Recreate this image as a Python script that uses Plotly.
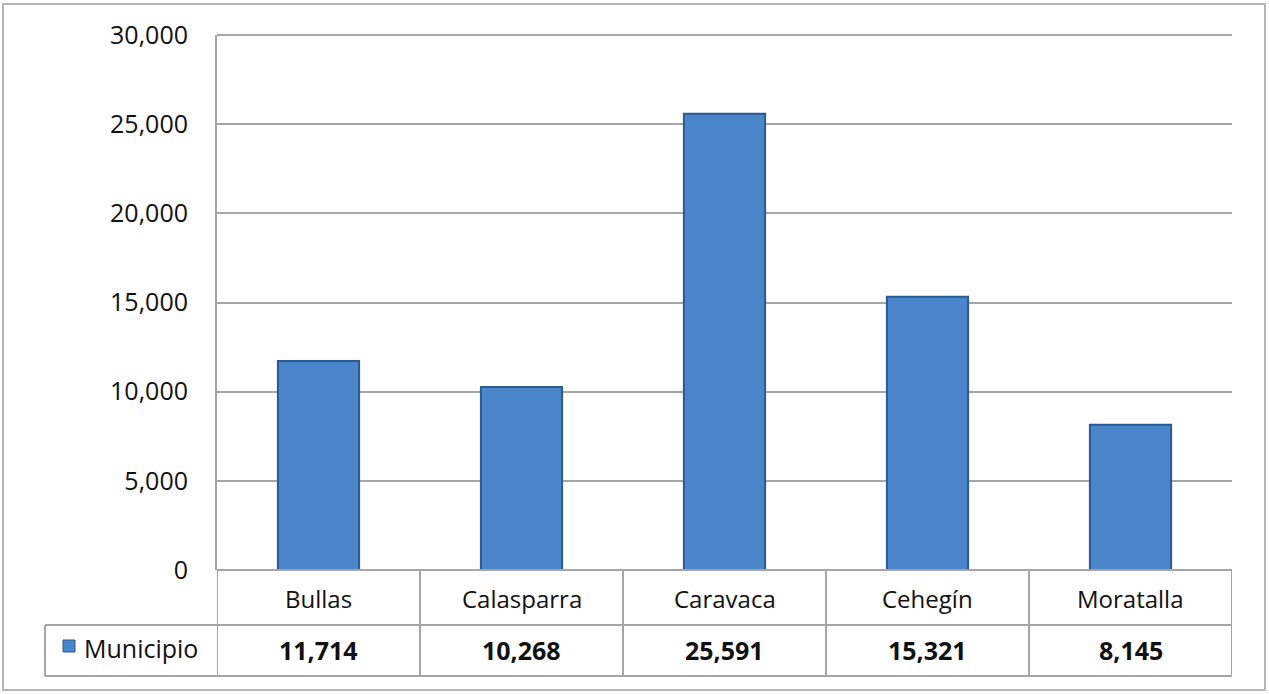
import plotly.graph_objects as go

categories = ["Bullas", "Calasparra", "Caravaca", "Cehegín", "Moratalla"]
values = [11714, 10268, 25591, 15321, 8145]
series_name = "Municipio"
y_ticks = [0, 5000, 10000, 15000, 20000, 25000, 30000]

W, H = 1269, 694
L, R, T, B = 217, 37, 35, 124
PW = W - L - R
PH = H - T - B


def px_x(px):
    return (px - L) / PW


def px_y(py):
    return (H - B - py) / PH


GRID = "#a6a6a6"
TXT = "#111111"
FONT = "Open Sans"
BAR = "#4a86c9"
BAR_EDGE = "#2c5a94"

fig = go.Figure()
fig.add_trace(go.Bar(
    x=list(range(len(categories))), y=values, name=series_name,
    width=0.4,
    marker=dict(color=BAR, line=dict(color=BAR_EDGE, width=2)),
))

shapes = []
# outer border
shapes.append(dict(type="rect", xref="paper", yref="paper",
                   x0=px_x(3), x1=px_x(1265), y0=px_y(690), y1=px_y(4),
                   line=dict(color="#b5b5b5", width=2), layer="below"))
# top gridline of plot area
shapes.append(dict(type="line", xref="paper", yref="paper",
                   x0=0, x1=1, y0=1, y1=1,
                   line=dict(color=GRID, width=2), layer="below"))
# table horizontal lines
for py, x0 in [(570, 217), (625, 45), (676, 45)]:
    shapes.append(dict(type="line", xref="paper", yref="paper",
                       x0=px_x(x0), x1=1, y0=px_y(py), y1=px_y(py),
                       line=dict(color=GRID, width=2)))
# table vertical lines between categories
n = len(categories)
for i in range(n + 1):
    shapes.append(dict(type="line", xref="x", yref="paper",
                       x0=i - 0.5, x1=i - 0.5, y0=px_y(676), y1=0,
                       line=dict(color=GRID, width=2)))
# left border of series name cell
shapes.append(dict(type="line", xref="paper", yref="paper",
                   x0=px_x(45), x1=px_x(45), y0=px_y(676), y1=px_y(625),
                   line=dict(color=GRID, width=2)))
# legend key
shapes.append(dict(type="rect", xref="paper", yref="paper",
                   x0=px_x(63), x1=px_x(75), y0=px_y(652), y1=px_y(640),
                   fillcolor=BAR, line=dict(color=BAR_EDGE, width=1)))

annotations = []
for i, (c, v) in enumerate(zip(categories, values)):
    annotations.append(dict(x=i, y=px_y(617), xref="x", yref="paper",
                            text=c, showarrow=False,
                            font=dict(family=FONT, size=24, color=TXT)))
    annotations.append(dict(x=i, y=px_y(669), xref="x", yref="paper",
                            text=f"<b>{v:,}</b>", showarrow=False,
                            font=dict(family=FONT, size=25, color=TXT)))
annotations.append(dict(x=px_x(82), y=px_y(667), xref="paper", yref="paper",
                        text=series_name, showarrow=False, xanchor="left",
                        font=dict(family=FONT, size=25, color=TXT)))

fig.update_layout(
    width=W, height=H,
    margin=dict(l=L, r=R, t=T, b=B),
    paper_bgcolor="white", plot_bgcolor="white",
    showlegend=False,
    bargap=0.6,
    xaxis=dict(range=[-0.5, n - 0.5], showticklabels=False, showgrid=False,
               zeroline=False, showline=False, ticks=""),
    yaxis=dict(range=[0, 30000], tickvals=y_ticks,
               ticktext=[f"{t:,}" for t in y_ticks],
               showgrid=True, gridcolor=GRID, gridwidth=2,
               zeroline=False, showline=True, linecolor=GRID, linewidth=2,
               ticks="", ticklabelstandoff=22,
               tickfont=dict(family=FONT, size=25, color=TXT)),
    shapes=shapes, annotations=annotations,
)

fig.write_html("out.html", config={"displayModeBar": False},
               post_script="document.body.style.margin='0';")
